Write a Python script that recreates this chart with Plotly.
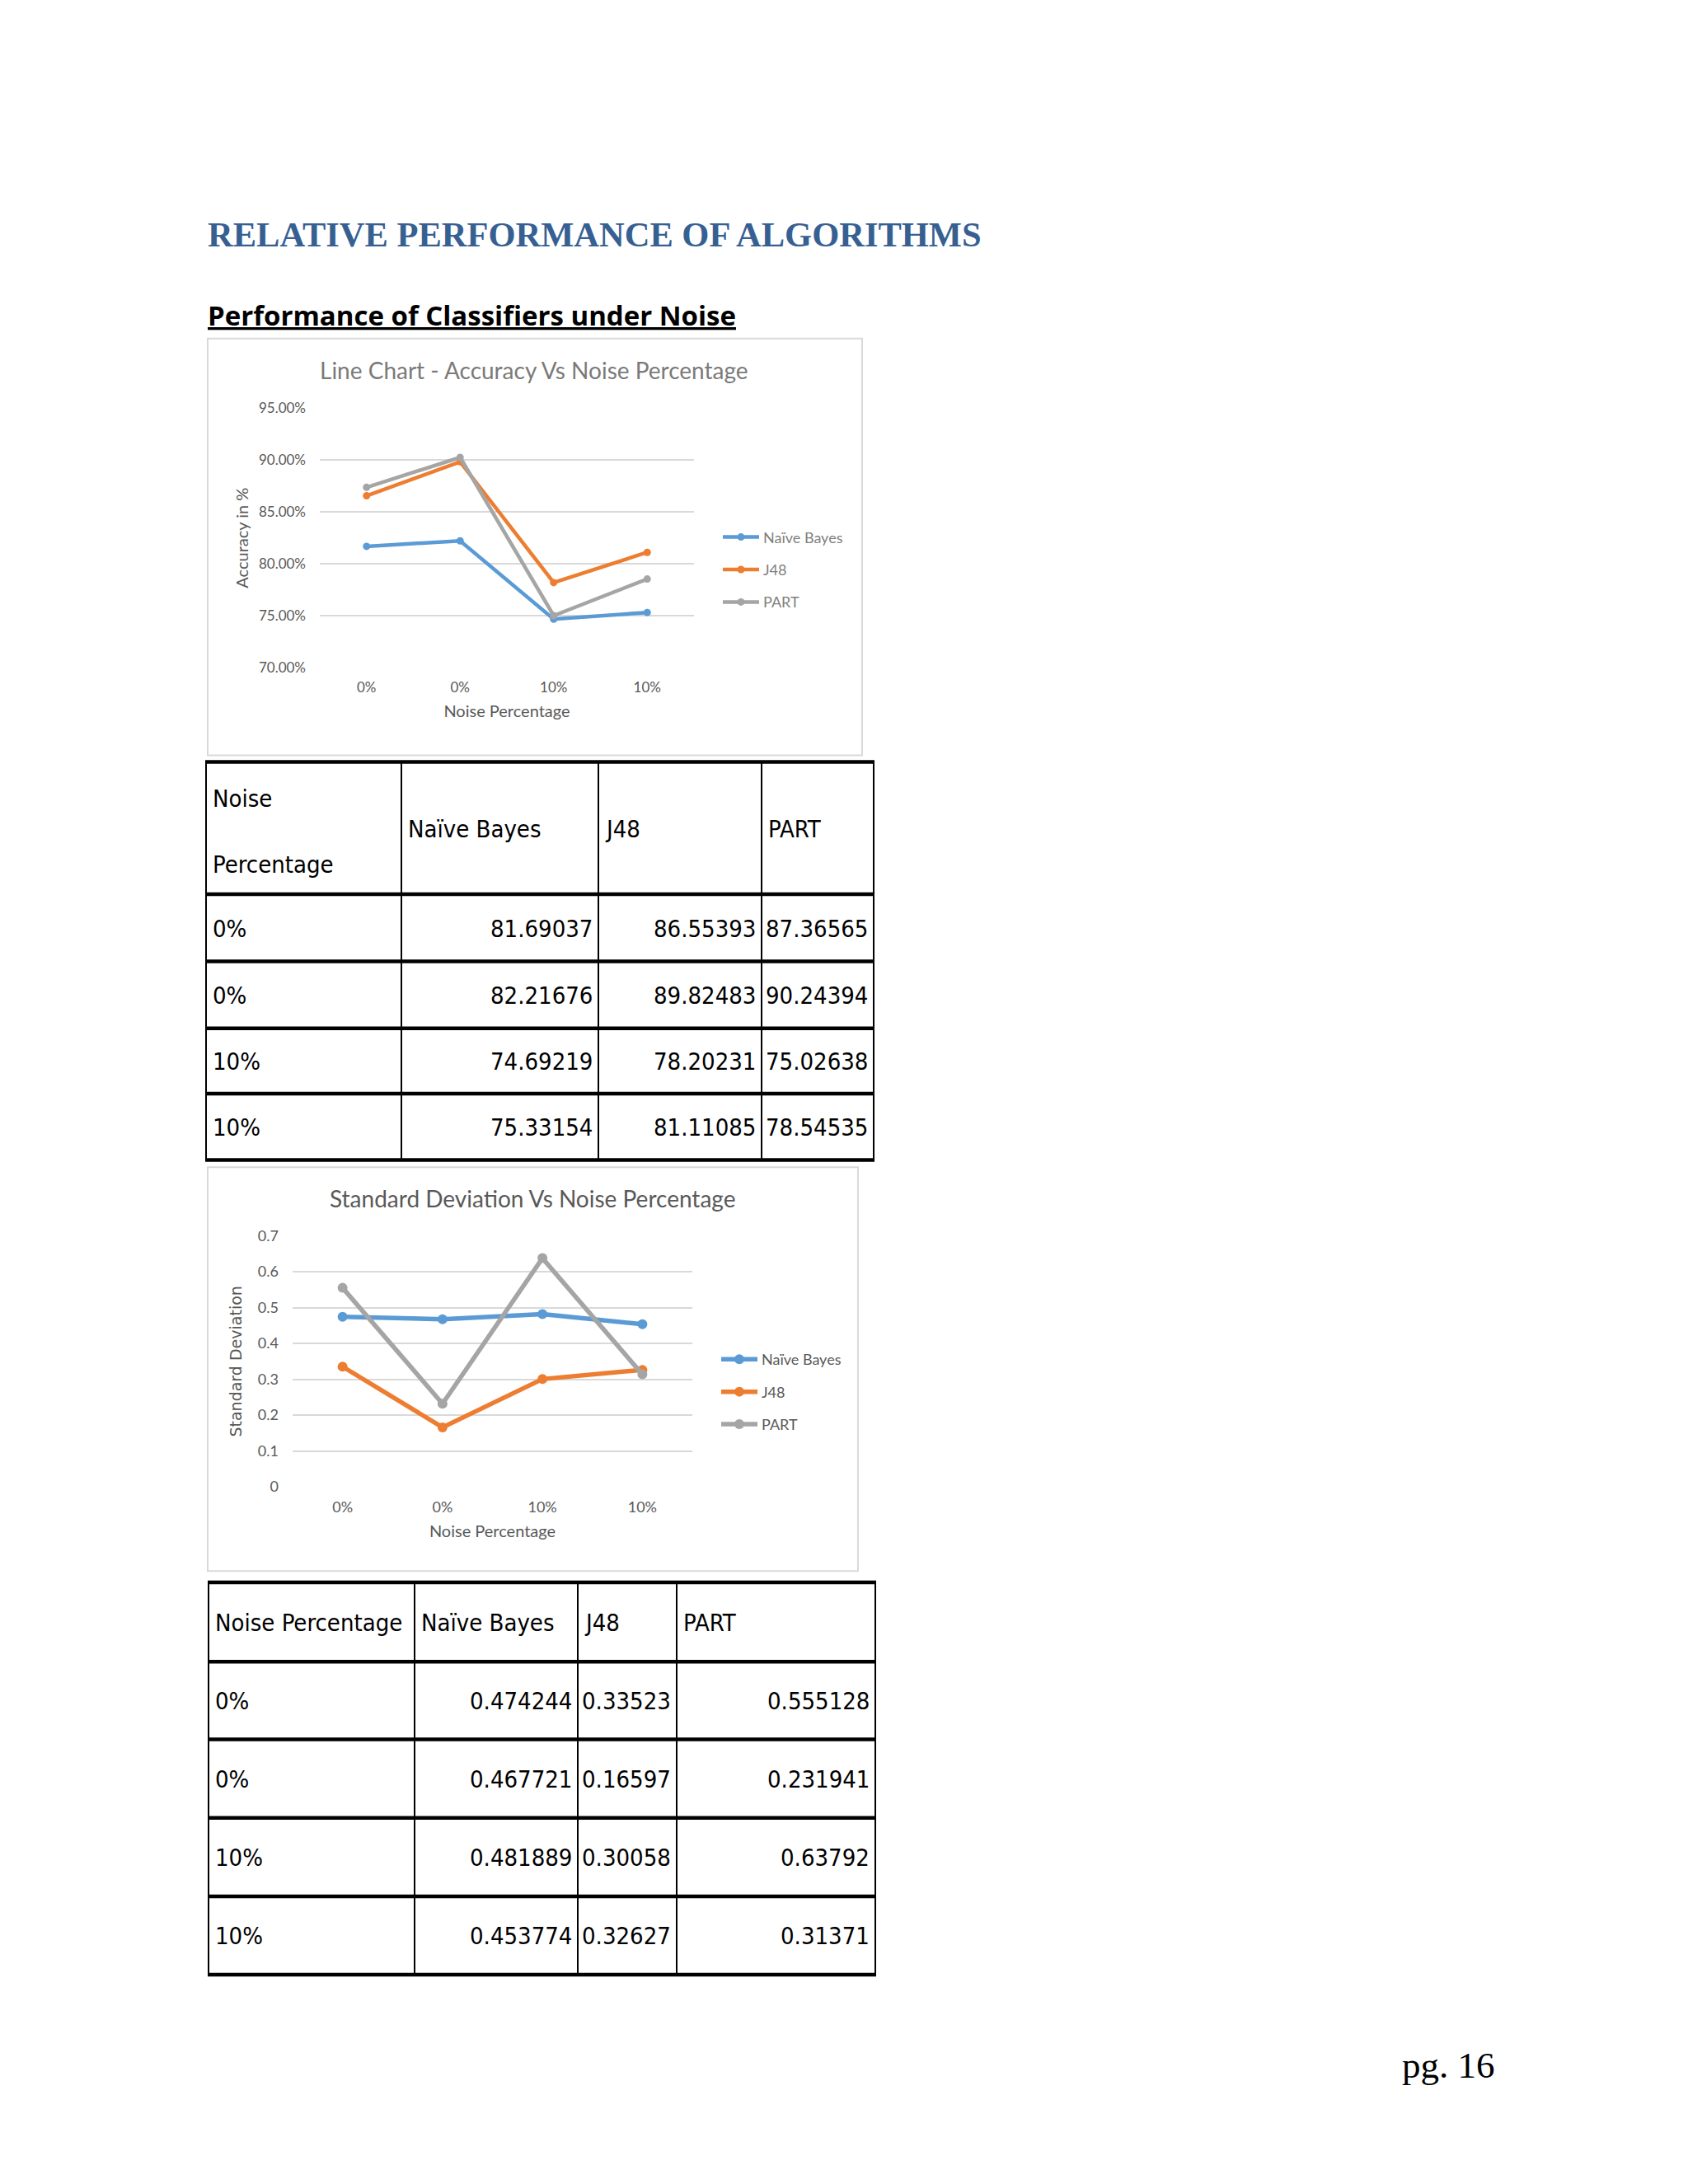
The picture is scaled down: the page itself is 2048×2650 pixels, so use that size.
import plotly.graph_objects as go

W, H = 2048, 2650

# ---------------- data ----------------
noise_labels = ["0%", "0%", "10%", "10%"]
algorithms = ["Naïve Bayes", "J48", "PART"]

acc_naive_bayes = [81.69037, 82.21676, 74.69219, 75.33154]
acc_j48 = [86.55393, 89.82483, 78.20231, 81.11085]
acc_part = [87.36565, 90.24394, 75.02638, 78.54535]

sd_naive_bayes = [0.474244, 0.467721, 0.481889, 0.453774]
sd_j48 = [0.33523, 0.16597, 0.30058, 0.32627]
sd_part = [0.555128, 0.231941, 0.63792, 0.31371]

acc_y_ticks = [70, 75, 80, 85, 90, 95]
acc_y_ticktext = ["70.00%", "75.00%", "80.00%", "85.00%", "90.00%", "95.00%"]
sd_y_ticks = [0, 0.1, 0.2, 0.3, 0.4, 0.5, 0.6, 0.7]
sd_y_ticktext = ["0", "0.1", "0.2", "0.3", "0.4", "0.5", "0.6", "0.7"]

table1_header = ["Noise<br>Percentage", "Naïve Bayes", "J48", "PART"]
table2_header = ["Noise Percentage", "Naïve Bayes", "J48", "PART"]

# ---------------- styles ----------------
colors = ["#5B9BD5", "#ED7D31", "#A5A5A5"]
chart_font = "Lato, 'Open Sans', sans-serif"
table_font = "'Noto Sans ExtraCondensed', 'Noto Sans Condensed', 'DejaVu Sans Condensed', sans-serif"
gray_text = "#595959"


def py(v):
    return 1 - v / H


series_acc = [acc_naive_bayes, acc_j48, acc_part]
series_sd = [sd_naive_bayes, sd_j48, sd_part]
x_idx = list(range(len(noise_labels)))

fig = go.Figure()

for name, vals, col in zip(algorithms, series_acc, colors):
    fig.add_trace(go.Scatter(
        x=x_idx, y=vals, name=name, mode="lines+markers",
        line=dict(color=col, width=4.5), marker=dict(size=9, color=col),
        xaxis="x", yaxis="y", legend="legend", legendgroup="acc_" + name,
        hoverinfo="skip"))

for name, vals, col in zip(algorithms, series_sd, colors):
    fig.add_trace(go.Scatter(
        x=x_idx, y=vals, name=name, mode="lines+markers",
        line=dict(color=col, width=5.5), marker=dict(size=12, color=col),
        xaxis="x2", yaxis="y2", legend="legend2", legendgroup="sd_" + name,
        hoverinfo="skip"))

tick_font1 = dict(family=chart_font, size=17, color=gray_text)
tick_font2 = dict(family=chart_font, size=18, color=gray_text)
title_font = dict(family=chart_font, size=20, color=gray_text)

fig.update_layout(
    width=W, height=H,
    margin=dict(l=0, r=0, t=0, b=0),
    paper_bgcolor="white", plot_bgcolor="white",
    xaxis=dict(domain=[380 / W, 834 / W], anchor="y", range=[-0.5, 3.5],
               tickvals=x_idx, ticktext=noise_labels, showgrid=False,
               zeroline=False, showline=False, ticks="", tickfont=tick_font1,
               ticklabelstandoff=12,
               title=dict(text="Noise Percentage", font=title_font, standoff=12)),
    yaxis=dict(domain=[py(797), py(479)], anchor="x", range=[70, 95],
               tickvals=acc_y_ticks, ticktext=acc_y_ticktext,
               showgrid=True, gridcolor="#d9d9d9", gridwidth=2,
               zeroline=False, showline=False, ticks="", tickfont=tick_font1,
               ticklabelstandoff=16,
               title=dict(text="Accuracy in %", font=title_font, standoff=6)),
    xaxis2=dict(domain=[347 / W, 832 / W], anchor="y2", range=[-0.5, 3.5],
                tickvals=x_idx, ticktext=noise_labels, showgrid=False,
                zeroline=False, showline=False, ticks="", tickfont=tick_font2,
                ticklabelstandoff=12,
                title=dict(text="Noise Percentage", font=title_font, standoff=12)),
    yaxis2=dict(domain=[py(1799), py(1492)], anchor="x2", range=[0, 0.7],
                tickvals=sd_y_ticks, ticktext=sd_y_ticktext, showgrid=True,
                gridcolor="#d9d9d9", gridwidth=2, zeroline=False,
                showline=False, ticks="", tickfont=tick_font2,
                ticklabelstandoff=16,
                title=dict(text="Standard Deviation",
                           font=dict(family="DejaVu Sans", size=19, color=gray_text),
                           standoff=14)),
    legend=dict(x=864 / W, y=py(677), xanchor="left", yanchor="middle",
                font=dict(family=chart_font, size=18, color="#7f7f7f"),
                bgcolor="rgba(0,0,0,0)", tracegroupgap=13, itemwidth=44),
    legend2=dict(x=862 / W, y=py(1683), xanchor="left", yanchor="middle",
                 font=dict(family=chart_font, size=18, color=gray_text),
                 bgcolor="rgba(0,0,0,0)", tracegroupgap=13, itemwidth=44),
    showlegend=True,
)

# chart frames
for (x0, y0, x1, y1) in [(244, 394, 1038, 904), (244, 1408, 1033, 1902)]:
    fig.add_shape(type="rect", xref="paper", yref="paper",
                  x0=x0 / W, x1=x1 / W, y0=py(y1), y1=py(y0),
                  line=dict(color="#d9d9d9", width=2), layer="below")

# chart titles
fig.add_annotation(xref="paper", yref="paper", x=640 / W, y=py(433),
                   text="Line Chart - Accuracy Vs Noise Percentage",
                   showarrow=False, xanchor="center", yanchor="middle",
                   font=dict(family=chart_font, size=28, color="#7a7a7a"))
fig.add_annotation(xref="paper", yref="paper", x=638 / W, y=py(1446),
                   text="Standard Deviation Vs Noise Percentage",
                   showarrow=False, xanchor="center", yanchor="middle",
                   font=dict(family=chart_font, size=28, color=gray_text))

# headings
fig.add_annotation(xref="paper", yref="paper", x=242 / W, y=py(267),
                   text="<b>RELATIVE PERFORMANCE OF ALGORITHMS</b>",
                   showarrow=False, xanchor="left", yanchor="middle",
                   font=dict(family="'Liberation Serif', serif", size=42.5, color="#376092"))
fig.add_annotation(xref="paper", yref="paper", x=242 / W, y=py(366),
                   text="<b><u>Performance of Classifiers under Noise</u></b>",
                   showarrow=False, xanchor="left", yanchor="middle",
                   font=dict(family="'Open Sans', sans-serif", size=33, color="black"))
fig.add_annotation(xref="paper", yref="paper", x=1808 / W, y=py(2507),
                   text="pg. 16", showarrow=False, xanchor="right", yanchor="middle",
                   font=dict(family="'Liberation Serif', serif", size=45, color="black"))


def draw_table(n, left, top, col_w, row_h, header, rows, font_size):
    xa, ya = f"x{n}", f"y{n}"
    tw, th = sum(col_w), sum(row_h)
    pad = 5
    fig.update_layout({
        f"xaxis{n}": dict(domain=[(left - pad) / W, (left + tw + pad) / W],
                          range=[-pad, tw + pad], visible=False, anchor=ya,
                          fixedrange=True),
        f"yaxis{n}": dict(domain=[py(top + th + pad), py(top - pad)],
                          range=[th + pad, -pad], visible=False, anchor=xa,
                          fixedrange=True),
    })
    fig.add_trace(go.Scatter(x=[], y=[], xaxis=xa, yaxis=ya, showlegend=False,
                             hoverinfo="skip"))
    xe = [0]
    for w in col_w:
        xe.append(xe[-1] + w)
    ye = [0]
    for h in row_h:
        ye.append(ye[-1] + h)
    for x in xe:
        fig.add_shape(type="line", xref=xa, yref=ya, x0=x, x1=x, y0=0, y1=th,
                      line=dict(color="black", width=2))
    for y in ye:
        fig.add_shape(type="line", xref=xa, yref=ya, x0=-1, x1=tw + 1, y0=y, y1=y,
                      line=dict(color="black", width=4.5))
    all_rows = [header] + rows
    for r, row in enumerate(all_rows):
        for c, txt in enumerate(row):
            y0, y1 = ye[r], ye[r + 1]
            lines = txt.split("<br>")
            for k, line in enumerate(lines):
                yc = y0 + (k + 0.5) * (y1 - y0) / len(lines) + (4 if len(lines) > 1 else 1)
                if r > 0 and c > 0:
                    x, anchor = xe[c + 1] - 5, "right"
                else:
                    x, anchor = xe[c] + 6, "left"
                fig.add_annotation(xref=xa, yref=ya, x=x, y=yc, text=line,
                                   showarrow=False, xanchor=anchor, yanchor="middle",
                                   font=dict(family=table_font, size=font_size,
                                             color="black"))


table1_rows = [[noise_labels[i]] + [str(s[i]) for s in series_acc]
               for i in range(len(noise_labels))]
table2_rows = [[noise_labels[i]] + [str(s[i]) for s in series_sd]
               for i in range(len(noise_labels))]

draw_table(3, 242, 912, [237, 239, 198, 136], [162, 82, 82, 80, 81],
           table1_header, table1_rows, 29)
draw_table(4, 245, 1916, [250, 198, 120, 241], [97, 95, 96, 96, 96],
           table2_header, table2_rows, 29)

fig.write_html("out.html")
